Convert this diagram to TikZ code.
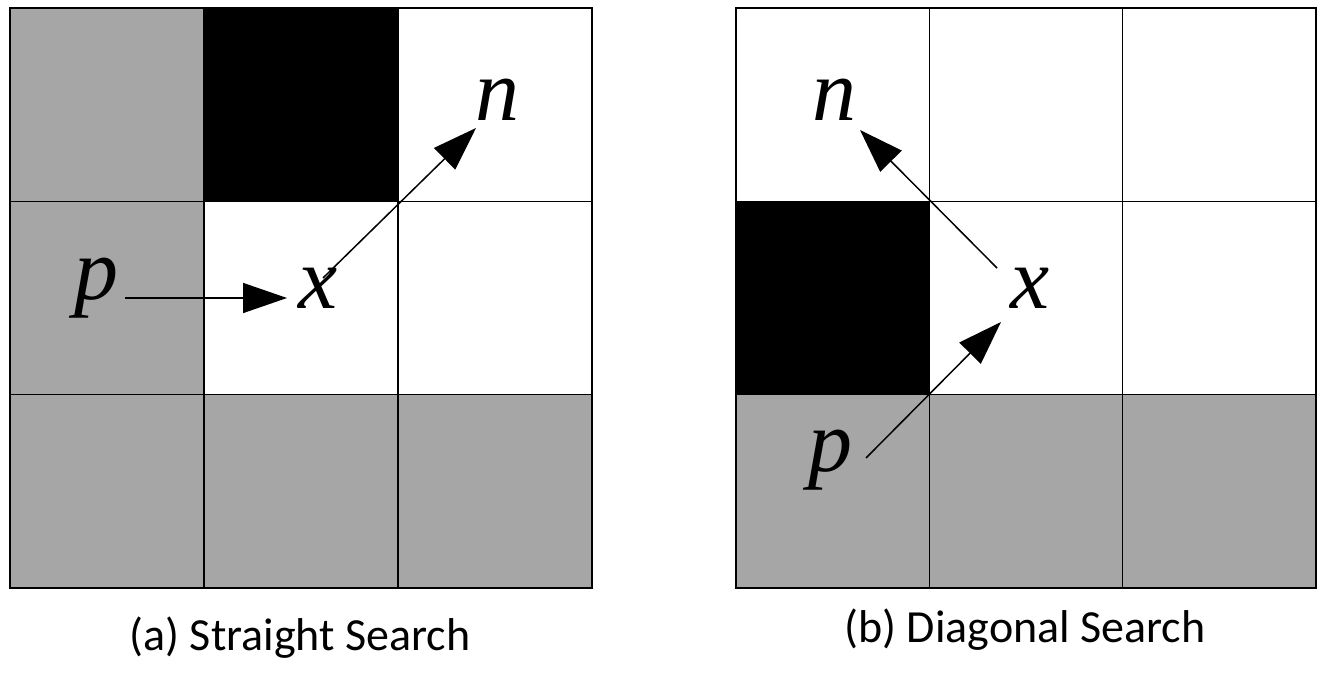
\documentclass[tikz,border=0pt]{standalone}
\usepackage{fontspec}
\setmainfont{Carlito}
\newfontfamily\lblfont{Liberation Serif}
\usetikzlibrary{arrows.meta}
\definecolor{cellgray}{RGB}{166,166,166}
\begin{document}
\begin{tikzpicture}[x=1pt,y=-1pt,
  cell/.style={draw=black,line width=1.5pt},
  lbl/.style={font=\lblfont\itshape\fontsize{88}{88}\selectfont,inner sep=0pt},
  captext/.style={font=\fontsize{46}{46}\selectfont,inner sep=0pt},
  arr/.style={line width=1.5pt,-{Triangle[length=44pt,width=30pt]}}]
\useasboundingbox (0,0) rectangle (1334,682);
% left grid
\foreach \c/\r/\f in {0/0/cellgray,1/0/black,2/0/white,0/1/cellgray,1/1/white,2/1/white,0/2/cellgray,1/2/cellgray,2/2/cellgray}
  \draw[cell,fill=\f] ({10+194*\c},{8+193.3*\r}) rectangle ++(194,193.3);
% right grid
\foreach \c/\r/\f in {0/0/white,1/0/white,2/0/white,0/1/black,1/1/white,2/1/white,0/2/cellgray,1/2/cellgray,2/2/cellgray}
  \draw[cell,fill=\f] ({736+193.3*\c},{8+193.3*\r}) rectangle ++(193.3,193.3);
% left labels
\node[lbl] (pa) at (96,288) {p};
\node[lbl] (xa) at (318,288) {x};
\node[lbl] (na) at (497,100) {n};
\coordinate (pa1) at (125,298);
\coordinate (xa1) at (287,298);
\coordinate (xa2) at (323,278);
\coordinate (na1) at (476,128);
\draw[arr] (pa1) -- (xa1);
\draw[arr] (xa2) -- (na1);
% right labels
\node[lbl] (nb) at (834,100) {n};
\node[lbl] (xb) at (1030,288) {x};
\node[lbl] (pb) at (830,460) {p};
\coordinate (xb1) at (997,268);
\coordinate (nb1) at (860,130);
\coordinate (pb1) at (866,458);
\coordinate (xb2) at (1001,322);
\draw[arr] (xb1) -- (nb1);
\draw[arr] (pb1) -- (xb2);
% captions
\node[captext] (ca) at (300,638) {(a) Straight Search};
\node[captext] (cb) at (1025,630) {(b) Diagonal Search};
\end{tikzpicture}
\end{document}
